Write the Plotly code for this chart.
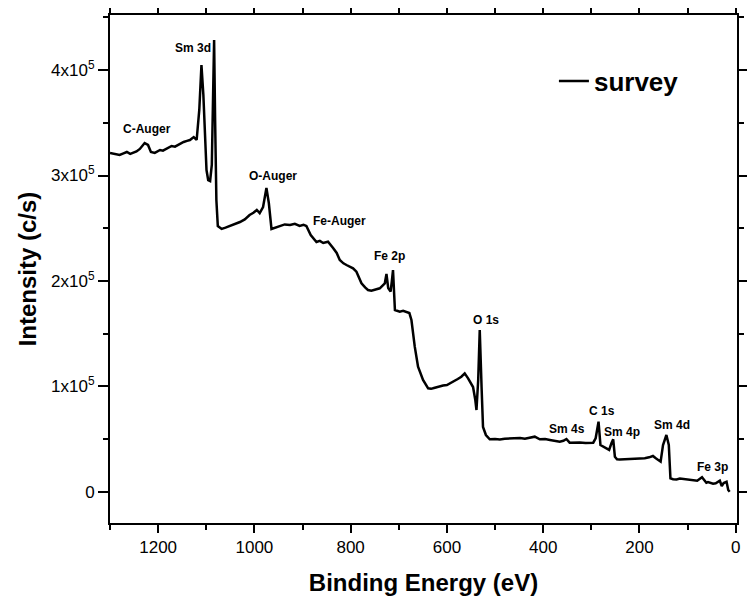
import plotly.graph_objects as go

# Binding energy (eV) and intensity (counts/s)
binding_energy = [
    1300, 1290, 1280, 1272, 1265, 1258, 1253, 1245, 1238, 1232, 1228, 1221, 1215, 1207,
    1200, 1196, 1190, 1184, 1178, 1172, 1165, 1159, 1153, 1147, 1140, 1134, 1126, 1120,
    1114.5, 1110, 1106, 1103, 1099.5, 1096, 1092, 1088.5, 1086.4, 1083.7, 1081.6, 1079,
    1076, 1068, 1060, 1051, 1040, 1030, 1020, 1010, 1002, 995, 989, 982, 975, 970, 964.5,
    956, 947, 937, 926, 916, 906, 898, 892, 883, 871, 864, 857, 847, 836.5, 829, 822.6,
    815, 808.7, 801, 795, 788, 777.5, 770, 764, 757, 750, 744, 739.5, 729, 725.6, 722,
    717, 714.6, 712, 708, 703, 698, 691, 684, 678, 673.7, 666.8, 660, 649.6, 639, 633,
    627, 621, 615, 608, 600, 594, 587, 577.5, 570, 563, 556, 545.7, 541, 538.6, 535,
    531.8, 528, 525, 519, 511, 500, 490, 480, 470, 459, 448, 438, 428, 417.5, 407, 396,
    386, 375, 365.6, 358, 351.7, 345, 335, 324, 312, 303, 296, 291, 285, 281, 275, 268.6,
    263, 258, 254.5, 251, 246.6, 241, 230, 220, 210, 199, 189, 180, 172, 166, 161, 156,
    151, 144, 139, 135.6, 130, 123, 116, 105, 96, 89, 80, 70, 61, 57.5, 52.5, 47, 41.5,
    37, 33, 29, 25, 19, 15.5, 12.5, 9, 5.6, 0
]
intensity = [
    321400, 320200, 319500, 321000, 322300, 320500, 321400, 322800, 325200, 328500, 330800,
    329000, 322300, 321500, 323000, 324200, 323600, 325200, 326800, 328000, 327400, 329000,
    330500, 331800, 332900, 333700, 336500, 333700, 362200, 404900, 376400, 333700, 305200,
    295700, 294800, 310000, 371600, 428600, 352700, 276800, 252100, 249300, 250600, 252100,
    253800, 255900, 258400, 262500, 264600, 267300, 264400, 270100, 288100, 273900, 249300,
    250500, 252100, 253600, 253000, 254200, 252100, 253300, 252100, 243600, 236900, 238000,
    236000, 237200, 231200, 226500, 219800, 216700, 215100, 213600, 212000, 208700, 197700,
    193800, 191400, 190800, 191400, 192300, 193000, 197700, 206600, 193300, 189800, 199000,
    210300, 172400, 171200, 170800, 171600, 170800, 169500, 162900, 137600, 118600, 106000,
    98100, 97600, 98400, 99300, 100300, 100800, 101200, 102600, 104400, 106900, 109100,
    112300, 107600, 99300, 87000, 77500, 106000, 153400, 99300, 61400, 53800, 49700, 50000,
    49600, 50300, 50500, 50400, 51000, 50200, 51400, 52200, 49700, 49900, 49100, 48200,
    47400, 48300, 50000, 46500, 46900, 46700, 46100, 46300, 46500, 50700, 66400, 44300,
    42800, 41200, 39600, 46200, 49700, 33200, 30700, 30600, 30900, 30600, 31500, 31300,
    31700, 32600, 33900, 31700, 30100, 28500, 44300, 53800, 44300, 12700, 11800, 11600,
    12400, 11800, 11400, 11200, 10400, 13700, 8500, 9200, 8700, 7600, 8000, 9600, 10400,
    5400, 8200, 9500, 1600, 0
]

y_tickvals = [0, 100000, 200000, 300000, 400000]
y_ticktext = ["0", "1x10<sup>5</sup>", "2x10<sup>5</sup>", "3x10<sup>5</sup>", "4x10<sup>5</sup>"]
x_tickvals = [1200, 1000, 800, 600, 400, 200, 0]

peak_labels = ["Sm 3d", "C-Auger", "O-Auger", "Fe-Auger", "Fe 2p", "O 1s",
               "Sm 4s", "C 1s", "Sm 4p", "Sm 4d", "Fe 3p"]
peak_label_x = [1128, 1224, 962, 823, 719, 518, 350, 277, 237, 133, 48]
peak_label_y = [420700, 344100, 299500, 256500, 223600, 162900, 59200, 76600, 56900, 63300, 23200]

FONT = "Liberation Sans, Arial, sans-serif"

fig = go.Figure()
fig.add_trace(go.Scatter(
    x=binding_energy, y=intensity, mode="lines", name="<b>survey</b>",
    line=dict(color="black", width=2.5),
))

for t, xv, yv in zip(peak_labels, peak_label_x, peak_label_y):
    fig.add_annotation(x=xv, y=yv, text="<b>%s</b>" % t, showarrow=False,
                       font=dict(family=FONT, size=12, color="black"))

axis_common = dict(
    showgrid=False, zeroline=False, showline=True, linecolor="black", linewidth=2,
    mirror="allticks", ticks="outside", tickcolor="black", tickwidth=2,
    tickfont=dict(family=FONT, size=17, color="black"), automargin=False,
)

fig.update_xaxes(
    range=[1300, -2.7], tickvals=x_tickvals, ticklen=8,
    minor=dict(ticks="outside", dtick=100, tick0=0, ticklen=5, tickwidth=2, tickcolor="black"),
    title=dict(text="<b>Binding Energy (eV)</b>", font=dict(family=FONT, size=24, color="black"), standoff=18),
    **axis_common,
)
fig.update_yaxes(
    range=[-29700, 452300], tickvals=y_tickvals, ticktext=y_ticktext, ticklen=10,
    minor=dict(ticks="outside", dtick=50000, tick0=0, ticklen=5, tickwidth=2, tickcolor="black"),
    title=dict(text="<b>Intensity (c/s)</b>", font=dict(family=FONT, size=24, color="black"), standoff=8),
    **axis_common,
)

# The page body adds an 8 px offset, so the figure is sized to fit inside the window
fig.update_layout(
    width=747, height=599,
    margin=dict(l=102, r=18, t=7, b=84),
    plot_bgcolor="white", paper_bgcolor="white",
    showlegend=True,
    legend=dict(x=0.708, y=0.870, xanchor="left", yanchor="middle",
                bgcolor="rgba(0,0,0,0)",
                font=dict(family=FONT, size=26, color="black")),
)

fig.write_html("out.html")
